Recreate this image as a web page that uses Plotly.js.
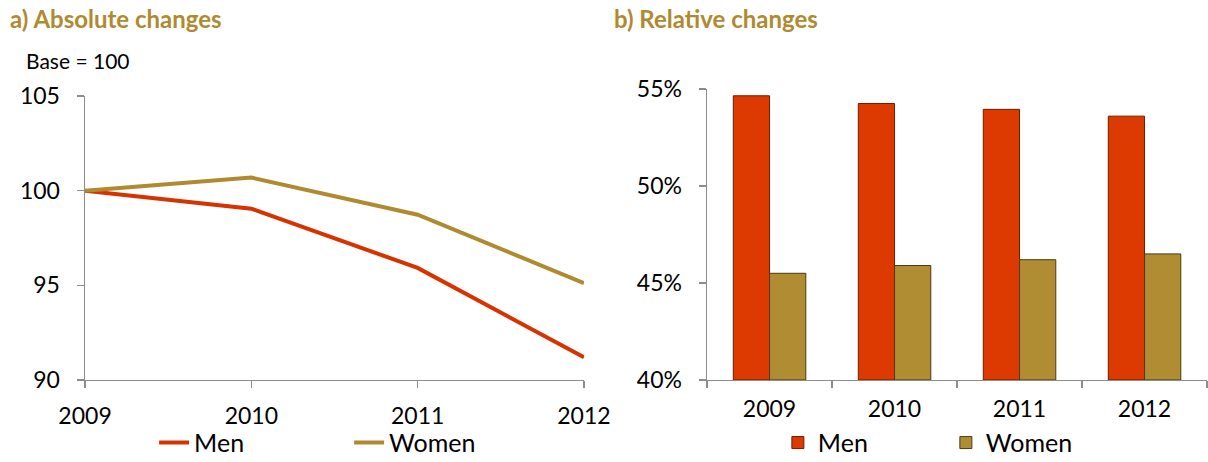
<!DOCTYPE html>
<html>
<head>
<meta charset="utf-8">
<script src="https://cdn.plot.ly/plotly-3.0.1.min.js"></script>
<style>html,body{margin:0;padding:0;background:#fff;}#chart{width:1208px;height:462px;}</style>
</head>
<body>
<div id="chart"></div>
<script>
var years = ['2009', '2010', '2011', '2012'];
var absMen = [100, 99.05, 95.92, 91.2];
var absWomen = [100, 100.69, 98.73, 95.12];
var relMen = [54.65, 54.25, 53.95, 53.6];
var relWomen = [45.5, 45.9, 46.2, 46.5];
var absTicks = [90, 95, 100, 105];
var relTicks = [40, 45, 50, 55];
var relTickLabels = ['40%', '45%', '50%', '55%'];

var cMen = '#D63300';
var cWomen = '#AF8A2E';
var cBarMen = '#DD3A02';
var cBarWomen = '#B08C32';
var gold = '#B08A30';
var axisCol = '#8C8C8C';
var font = 'Lato, "Open Sans", sans-serif';

var traces = [
  {x: years, y: absMen, type: 'scatter', mode: 'lines', name: 'Men',
   line: {color: cMen, width: 4}, xaxis: 'x', yaxis: 'y', legend: 'legend'},
  {x: years, y: absWomen, type: 'scatter', mode: 'lines', name: 'Women',
   line: {color: cWomen, width: 4}, xaxis: 'x', yaxis: 'y', legend: 'legend'},
  {x: years, y: relMen.map(function(v){return v - 40;}), type: 'bar', name: 'Men', base: 40,
   marker: {color: cBarMen, line: {color: '#6A1E00', width: 1}},
   xaxis: 'x2', yaxis: 'y2', legend: 'legend2'},
  {x: years, y: relWomen.map(function(v){return v - 40;}), type: 'bar', name: 'Women', base: 40,
   marker: {color: cBarWomen, line: {color: '#4A3A10', width: 1}},
   xaxis: 'x2', yaxis: 'y2', legend: 'legend2'}
];

var tickFont = {family: font, size: 23, color: '#000'};
var commonAxis = {showgrid: false, zeroline: false, showline: true, linecolor: axisCol,
  linewidth: 1.5, ticks: 'outside', ticklen: 7, tickcolor: axisCol, tickwidth: 1.5,
  tickfont: tickFont, automargin: false, fixedrange: true};

var layout = {
  width: 1208, height: 462,
  margin: {l: 0, r: 0, t: 0, b: 0, autoexpand: false},
  paper_bgcolor: '#fff', plot_bgcolor: 'rgba(0,0,0,0)',
  font: {family: font, color: '#000'},
  barmode: 'group', bargap: 0.42, bargroupgap: 0,
  xaxis: Object.assign({}, commonAxis, {domain: [0.0704, 0.4834], type: 'category',
    range: [0, 3], anchor: 'y', ticklabelstandoff: 8}),
  yaxis: Object.assign({}, commonAxis, {domain: [0.1775, 0.7922], range: [90, 105],
    tickvals: absTicks, anchor: 'x', ticklabelstandoff: 12}),
  xaxis2: Object.assign({}, commonAxis, {domain: [0.5853, 0.9992], type: 'category',
    range: [-0.5, 3.5], tickson: 'boundaries', anchor: 'y2', ticklabelstandoff: 8}),
  yaxis2: Object.assign({}, commonAxis, {domain: [0.1775, 0.8074], range: [40, 55],
    tickmode: 'array', tickvals: relTicks, ticktext: relTickLabels, anchor: 'x2', ticklabelstandoff: 12}),
  legend: {orientation: 'h', x: 0.289, xanchor: 'center', y: 0.0415, yanchor: 'middle',
    font: {family: font, size: 25, color: '#000'}, entrywidth: 150, bgcolor: 'rgba(0,0,0,0)'},
  legend2: {orientation: 'h', x: 0.783, xanchor: 'center', y: 0.0415, yanchor: 'middle',
    font: {family: font, size: 25, color: '#000'}, entrywidth: 123, bgcolor: 'rgba(0,0,0,0)'},
  annotations: [
    {text: '<b>a) Absolute changes</b>', xref: 'paper', yref: 'paper', x: 8/1208, y: 1 - 18/462,
     xanchor: 'left', yanchor: 'middle', showarrow: false, font: {family: font, size: 24, color: gold}},
    {text: '<b>b) Relative changes</b>', xref: 'paper', yref: 'paper', x: 612/1208, y: 1 - 18/462,
     xanchor: 'left', yanchor: 'middle', showarrow: false, font: {family: font, size: 24, color: gold}},
    {text: 'Base = 100', xref: 'paper', yref: 'paper', x: 24/1208, y: 1 - 60/462,
     xanchor: 'left', yanchor: 'middle', showarrow: false, font: {family: font, size: 21, color: '#000'}}
  ]
};

Plotly.newPlot('chart', traces, layout, {staticPlot: true, displayModeBar: false});
</script>
</body>
</html>
